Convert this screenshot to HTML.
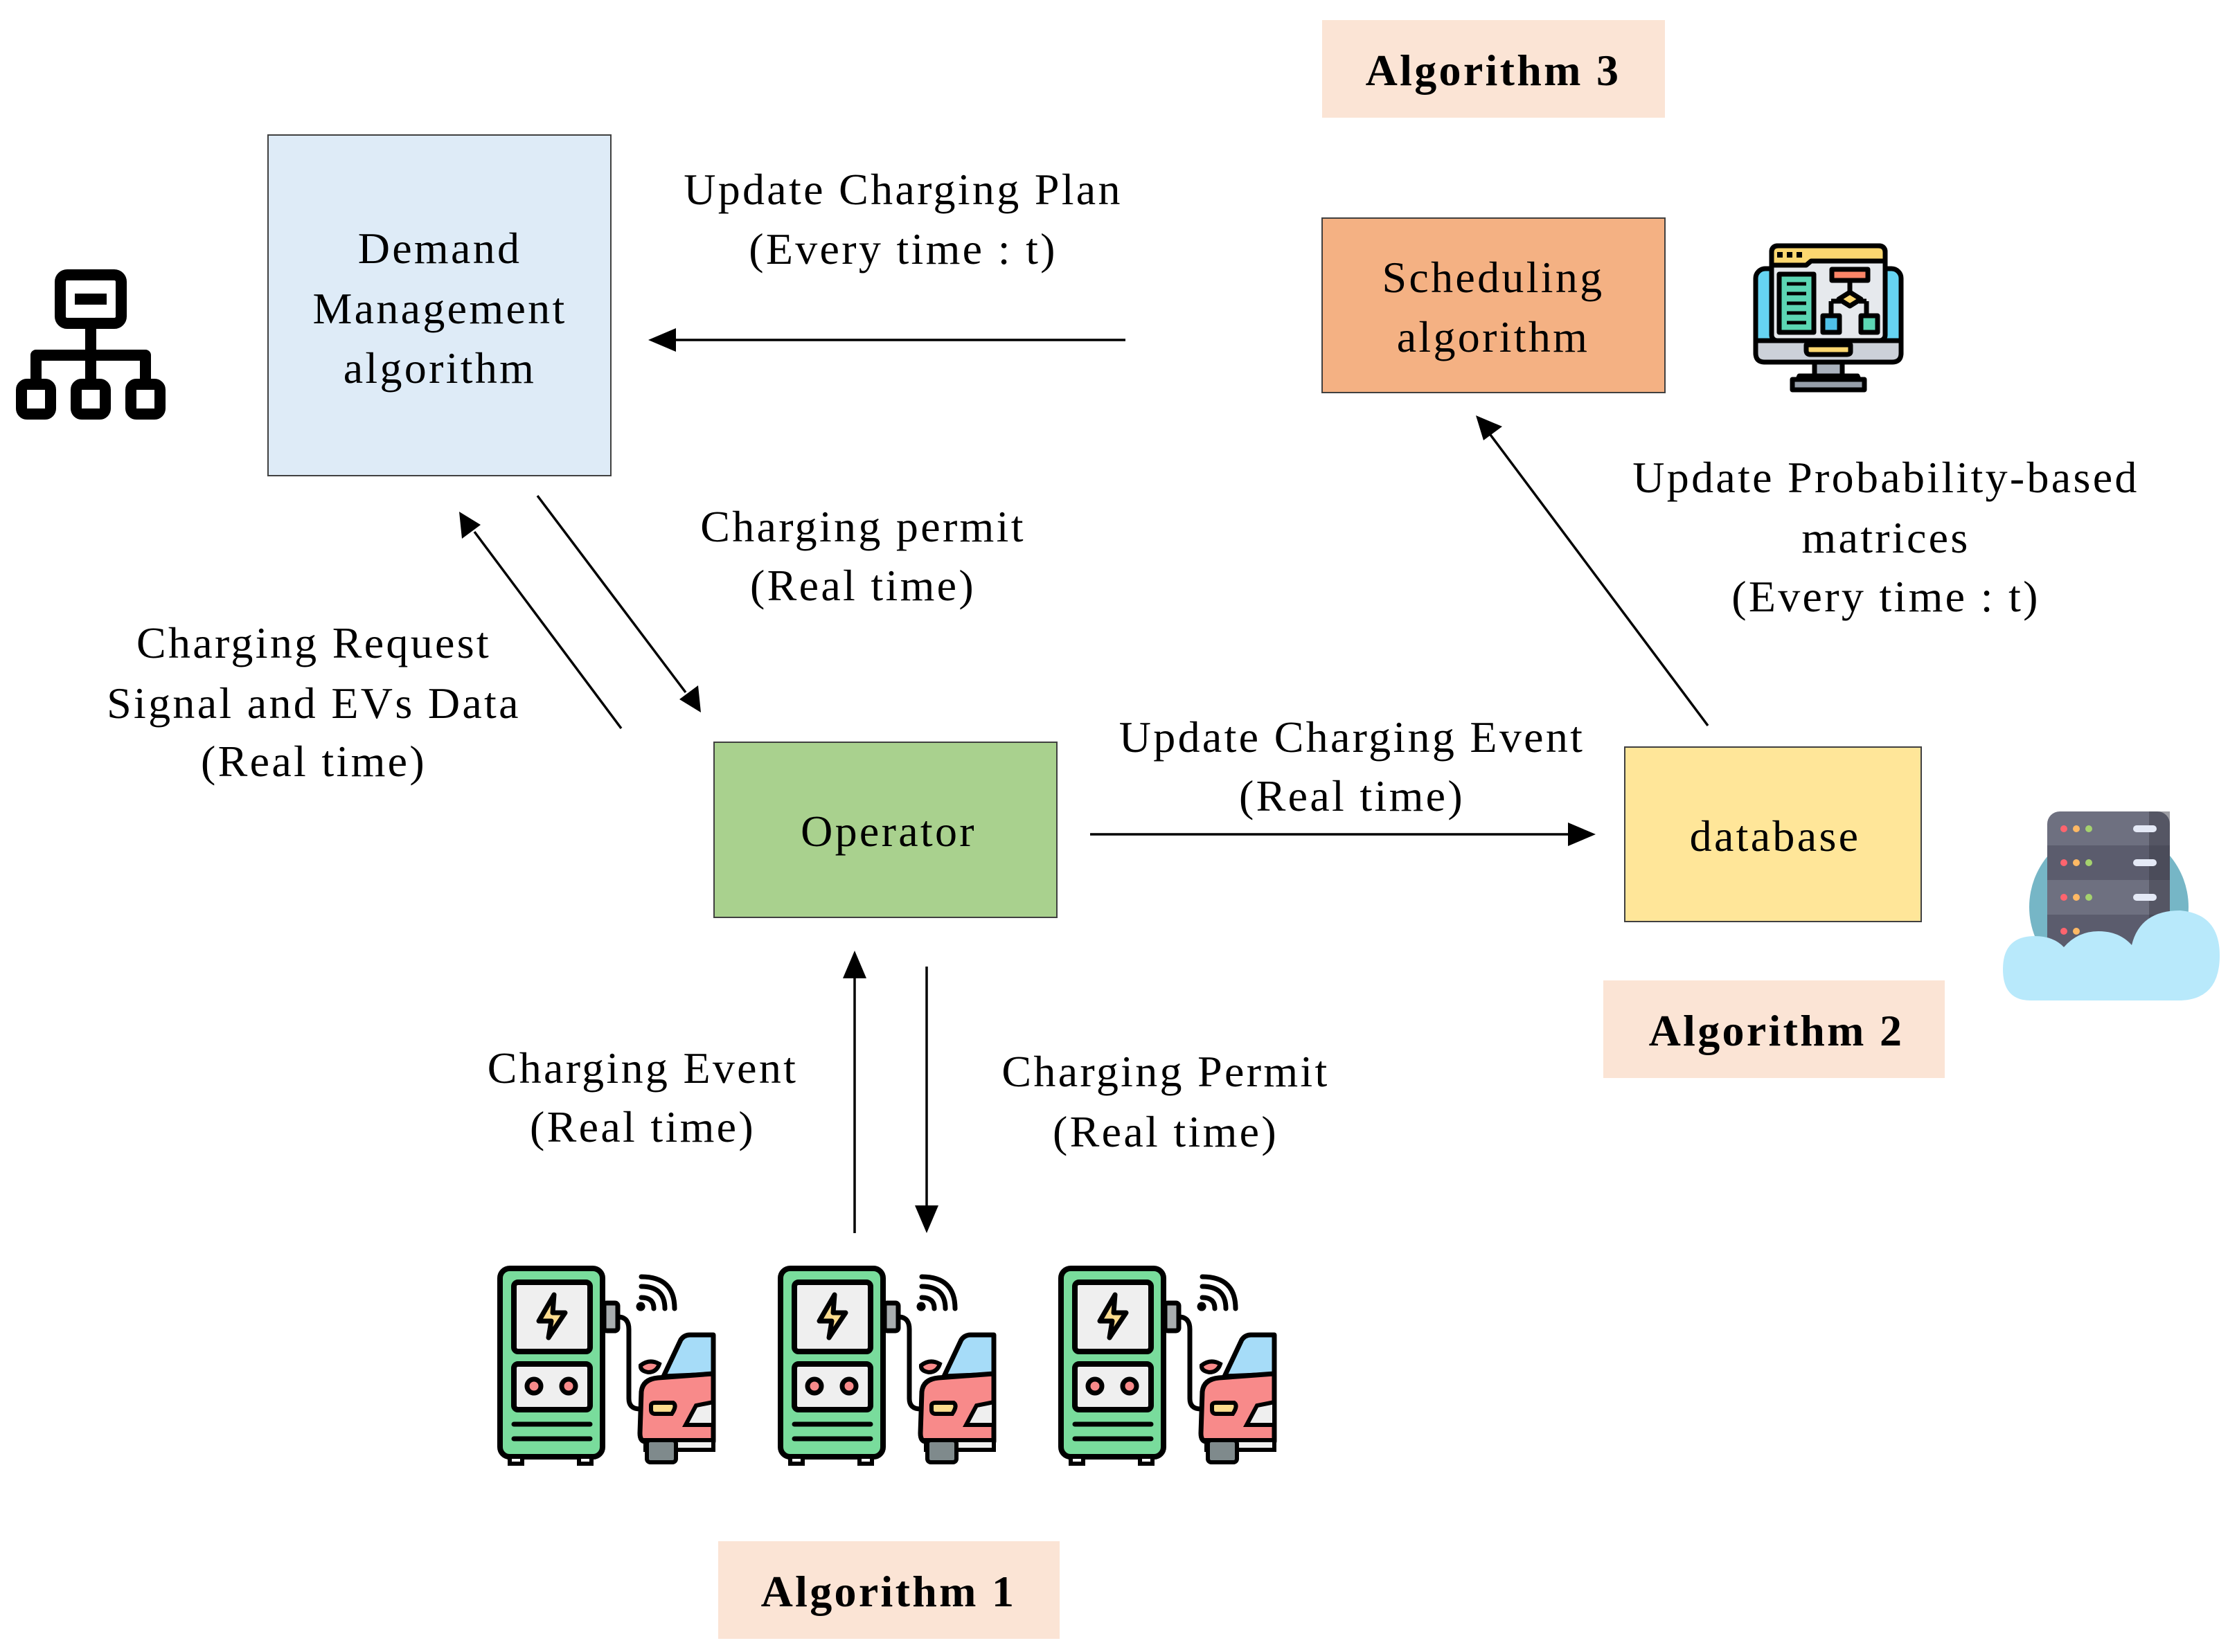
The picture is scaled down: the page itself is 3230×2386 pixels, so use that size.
<!DOCTYPE html>
<html><head><meta charset="utf-8"><style>
html,body{margin:0;padding:0;background:#fff;}
svg{display:block;}
text{font-family:"Liberation Serif",serif;font-size:64px;fill:#000;letter-spacing:3.3px;}
.b{font-weight:bold;font-size:64px;}
</style></head><body>
<svg width="3230" height="2386" viewBox="0 0 3230 2386" xmlns="http://www.w3.org/2000/svg">
<defs>
<g id="charger">
  <rect x="22" y="12" width="148" height="272" rx="14" fill="#79dc9c" stroke="#000" stroke-width="8"/>
  <rect x="42" y="32" width="110" height="100" rx="6" fill="#efefef" stroke="#000" stroke-width="8"/>
  <path d="M100 50 L78 88 L96 88 L92 112 L116 76 L98 76 Z" fill="#fbdb8d" stroke="#000" stroke-width="7" stroke-linejoin="round"/>
  <rect x="42" y="150" width="110" height="66" rx="6" fill="#efefef" stroke="#000" stroke-width="8"/>
  <circle cx="71" cy="182" r="10" fill="#f88a8a" stroke="#000" stroke-width="7"/>
  <circle cx="121" cy="182" r="10" fill="#f88a8a" stroke="#000" stroke-width="7"/>
  <line x1="42" y1="237" x2="152" y2="237" stroke="#000" stroke-width="7" stroke-linecap="round"/>
  <line x1="42" y1="258" x2="152" y2="258" stroke="#000" stroke-width="7" stroke-linecap="round"/>
  <rect x="36" y="284" width="18" height="10" fill="#fff" stroke="#000" stroke-width="6"/>
  <rect x="136" y="284" width="18" height="10" fill="#fff" stroke="#000" stroke-width="6"/>
  <rect x="172" y="62" width="20" height="40" rx="4" fill="#a8adaf" stroke="#000" stroke-width="7"/>
  <path d="M192 82 Q208 82 208 100 L208 200 Q208 215 224 215" fill="none" stroke="#000" stroke-width="7"/>
  <path d="M225 70 A3 3 0 1 1 225.1 70 M226 54 Q244 54 244 70 M226 38 Q260 38 260 70 M226 24 Q274 24 274 70" fill="none" stroke="#000" stroke-width="7" stroke-linecap="round"/>
  <path d="M258 168 L283 115 Q288 108 296 108 L330 108 L330 165 Z" fill="#a6dcf8" stroke="#000" stroke-width="7" stroke-linejoin="round"/>
  <path d="M226 190 Q228 172 250 170 L330 164 L330 262 L232 262 Q224 262 224 250 Z" fill="#f88a8a" stroke="#000" stroke-width="7" stroke-linejoin="round"/>
  <path d="M240 210 Q240 206 246 206 L272 206 Q278 210 270 222 L246 222 Q240 222 240 216 Z" fill="#fbdb8d" stroke="#000" stroke-width="6"/>
  <path d="M290 238 L305 210 L330 205 L330 238 Z" fill="#efefef" stroke="#000" stroke-width="6"/>
  <rect x="232" y="260" width="98" height="14" fill="#efefef" stroke="#000" stroke-width="6"/>
  <rect x="234" y="260" width="42" height="32" rx="5" fill="#7f8a8c" stroke="#000" stroke-width="6"/>
  <path d="M225 152 Q238 142 252 150 Q248 162 236 162 Q224 160 225 152Z" fill="#f88a8a" stroke="#000" stroke-width="6"/>
</g>
</defs>

<rect x="1909" y="29" width="495" height="141" fill="#fbe4d5"/>
<text class="b" x="2156" y="123" text-anchor="middle">Algorithm 3</text>
<rect x="387" y="195" width="495" height="492" fill="#deebf7" stroke="#404040" stroke-width="2"/>
<text x="635" y="380" text-anchor="middle">Demand</text>
<text x="635" y="467" text-anchor="middle">Management</text>
<text x="635" y="553" text-anchor="middle">algorithm</text>
<rect x="1909" y="315" width="495" height="252" fill="#f4b183" stroke="#404040" stroke-width="2"/>
<text x="2156" y="422" text-anchor="middle">Scheduling</text>
<text x="2156" y="508" text-anchor="middle">algorithm</text>
<rect x="1031" y="1072" width="495" height="253" fill="#a9d18e" stroke="#404040" stroke-width="2"/>
<text x="1283" y="1222" text-anchor="middle">Operator</text>
<rect x="2346" y="1079" width="428" height="252" fill="#ffe699" stroke="#404040" stroke-width="2"/>
<text x="2563" y="1229" text-anchor="middle">database</text>
<rect x="2315" y="1416" width="493" height="141" fill="#fbe4d5"/>
<text class="b" x="2565" y="1510" text-anchor="middle">Algorithm 2</text>
<rect x="1037" y="2226" width="493" height="141" fill="#fbe4d5"/>
<text class="b" x="1283" y="2320" text-anchor="middle">Algorithm 1</text>

<g stroke="#000" stroke-width="3.5" fill="none">
<line x1="1625" y1="491" x2="970" y2="491"/>
<line x1="776" y1="716" x2="990" y2="1000"/>
<line x1="897" y1="1052" x2="685" y2="768"/>
<line x1="1574" y1="1205" x2="2270" y2="1205"/>
<line x1="2466" y1="1048" x2="2152" y2="628"/>
<line x1="1234" y1="1781" x2="1234" y2="1410"/>
<line x1="1338" y1="1396" x2="1338" y2="1745"/>
</g>
<g fill="#000">
<polygon points="936,491 976,474 976,508"/>
<polygon points="1012,1029 981,1010 1008,990"/>
<polygon points="663,739 694,758 667,778"/>
<polygon points="2304,1205 2264,1188 2264,1222"/>
<polygon points="2131,600 2142,636 2169,616"/>
<polygon points="1234,1373 1217,1413 1251,1413"/>
<polygon points="1338,1781 1321,1741 1355,1741"/>
</g>

<g text-anchor="middle">
<text x="1304" y="295">Update Charging Plan</text>
<text x="1304" y="381">(Every time : t)</text>
<text x="1246" y="782">Charging permit</text>
<text x="1246" y="867">(Real time)</text>
<text x="453" y="950">Charging Request</text>
<text x="453" y="1037">Signal and EVs Data</text>
<text x="453" y="1121">(Real time)</text>
<text x="1952" y="1086">Update Charging Event</text>
<text x="1952" y="1171">(Real time)</text>
<text x="2723" y="711">Update Probability-based</text>
<text x="2723" y="798">matrices</text>
<text x="2723" y="883">(Every time : t)</text>
<text x="928" y="1564">Charging Event</text>
<text x="928" y="1649">(Real time)</text>
<text x="1683" y="1569">Charging Permit</text>
<text x="1683" y="1656">(Real time)</text>
</g>

<g fill="none" stroke="#000" stroke-width="16" stroke-linejoin="round">
<rect x="87" y="397" width="88" height="70" rx="10"/>
<line x1="108" y1="432" x2="154" y2="432"/>
<path d="M131 467 V513 M52 555 V513 H210 V555 M131 513 V555"/>
<rect x="31" y="555" width="42" height="43" rx="8"/>
<rect x="110" y="555" width="42" height="43" rx="8"/>
<rect x="189" y="555" width="42" height="43" rx="8"/>
</g>

<g transform="translate(2520,340)" stroke="#000" stroke-width="7" stroke-linejoin="round">
<rect x="15" y="48" width="210" height="135" rx="14" fill="#66d4f2"/>
<path d="M15 152 H225 V170 Q225 183 212 183 H28 Q15 183 15 170 Z" fill="#ccd1d9"/>
<path d="M88 158 H152 V168 Q152 172 146 172 H94 Q88 172 88 166 Z" fill="#fcd770"/>
<rect x="100" y="183" width="40" height="22" fill="#aab2bd"/>
<path d="M72 217 L78 203 H162 L168 217 Z" fill="#aab2bd"/>
<rect x="68" y="208" width="104" height="15" fill="#969faa"/>
<rect x="38" y="15" width="164" height="137" rx="8" fill="#e6e9ed"/>
<path d="M38 25 Q38 15 48 15 H192 Q202 15 202 25 V37 H95 L88 43 H38 Z" fill="#fcd770"/>
<rect x="49" y="56" width="50" height="84" fill="#5cd6b3"/>
<rect x="125" y="49" width="52" height="16" fill="#fc8567"/>
<path d="M151 65 V82 M124 95 V116 M175 95 V116 M124 95 H138 M164 95 H175" fill="none"/>
<path d="M151 82 L167 92 L151 102 L135 92 Z" fill="#fcd770"/>
<rect x="112" y="116" width="24" height="24" fill="#4fc0e8"/>
<rect x="167" y="116" width="24" height="24" fill="#5cd6b3"/>
<g stroke-width="5"><line x1="60" y1="70" x2="88" y2="70"/><line x1="60" y1="84" x2="88" y2="84"/><line x1="60" y1="98" x2="88" y2="98"/><line x1="60" y1="112" x2="88" y2="112"/><line x1="60" y1="126" x2="88" y2="126"/></g>
<g fill="#000" stroke="none"><rect x="46" y="24" width="8" height="8"/><rect x="60" y="24" width="8" height="8"/><rect x="74" y="24" width="8" height="8"/></g>
</g>

<g transform="translate(2890,1160)">
<circle cx="155" cy="150" r="115" fill="#76b6c6"/>
<rect x="66" y="12" width="177" height="200" rx="18" fill="#6e7080"/>
<rect x="66" y="61" width="177" height="50" fill="#5b5c6d"/>
<rect x="66" y="161" width="177" height="50" fill="#5b5c6d"/>
<rect x="213" y="12" width="30" height="200" fill="#3c3c48" opacity="0.5"/>
<g>
<circle cx="90" cy="37" r="5" fill="#ff646e"/><circle cx="108" cy="37" r="5" fill="#ffb964"/><circle cx="126" cy="37" r="5" fill="#a5d26e"/><rect x="190" y="32" width="34" height="10" rx="5" fill="#e4e9f6"/>
<circle cx="90" cy="86" r="5" fill="#ff646e"/><circle cx="108" cy="86" r="5" fill="#ffb964"/><circle cx="126" cy="86" r="5" fill="#a5d26e"/><rect x="190" y="81" width="34" height="10" rx="5" fill="#e4e9f6"/>
<circle cx="90" cy="136" r="5" fill="#ff646e"/><circle cx="108" cy="136" r="5" fill="#ffb964"/><circle cx="126" cy="136" r="5" fill="#a5d26e"/><rect x="190" y="131" width="34" height="10" rx="5" fill="#e4e9f6"/>
<circle cx="90" cy="185" r="5" fill="#ff646e"/><circle cx="108" cy="185" r="5" fill="#ffb964"/>
</g>
<path d="M42 285 Q2 285 2 240 Q2 192 48 192 Q75 192 90 208 Q110 185 140 185 Q170 185 188 205 Q200 155 258 155 Q315 160 315 220 Q315 285 255 285 Z" fill="#b8e9fb"/>
</g>

<use href="#charger" transform="translate(700,1820)"/>
<use href="#charger" transform="translate(1105,1820)"/>
<use href="#charger" transform="translate(1510,1820)"/>
</svg>
</body></html>
